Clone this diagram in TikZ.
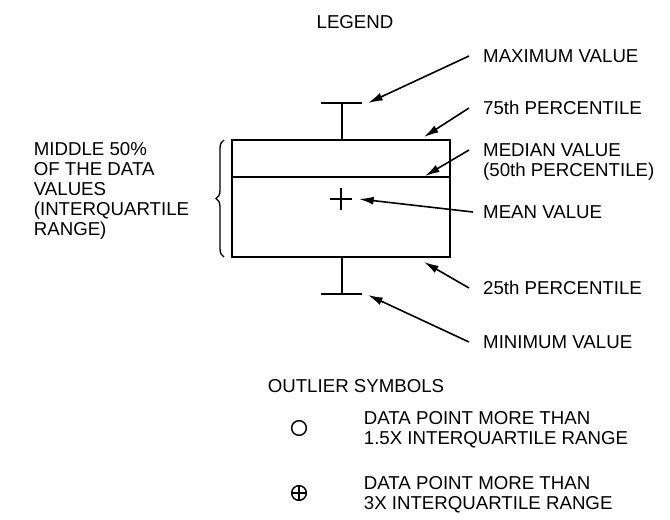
\documentclass[tikz,border=0pt]{standalone}
\usepackage{fontspec}
\setmainfont{Liberation Sans}
\usetikzlibrary{arrows.meta,decorations.pathreplacing}
\tikzset{
  lbl/.style={anchor=west,inner sep=0pt,inner xsep=10pt,align=left,font=\fontsize{14}{15}\selectfont},
  txt/.style={inner sep=0pt,align=left,font=\fontsize{14}{15}\selectfont},
  arr/.style={line width=1.2pt,-{Latex[length=11pt,width=6pt]}},
  outsym/.style={circle,draw,line width=1.1pt,minimum size=11pt,inner sep=0pt}
}
\begin{document}
\begin{tikzpicture}[x=0.75pt,y=-0.75pt,line width=1.3pt]
                \useasboundingbox (0,0) rectangle (670,519);
                \node[txt] (legend) at (355,22) {LEGEND};
                \draw (232,140) rectangle (450,257);
                \draw (232,177) -- (450,177);
                \draw (342,140) -- (342,103) (321,103) -- (362,103);
                \draw (342,257) -- (342,294) (321,294) -- (362,294);
                \draw (330,199) -- (352,199) (341,188) -- (341,210);
                \draw[line width=1pt,decorate,decoration={brace,amplitude=6pt}] (224,257) -- (224,140);
                \node[txt,anchor=west] (iqr) at (33,191) {MIDDLE 50\%\\OF THE DATA\\VALUES\\(INTERQUARTILE\\RANGE)};
                \coordinate (maxtip) at (368,103);
                \coordinate (q3tip) at (424,137);
                \coordinate (medtip) at (425,176);
                \coordinate (meantip) at (359,199);
                \coordinate (q1tip) at (424,262);
                \coordinate (mintip) at (368,295);
                \node[lbl] (maxlbl) at (469,56) {MAXIMUM VALUE};
                \node[lbl] (q3lbl) at (469,108) {75th PERCENTILE};
                \node[lbl] (medlbl) at (469,162) {MEDIAN VALUE\\(50th PERCENTILE)};
                \node[lbl] (meanlbl) at (469,212) {MEAN VALUE};
                \node[lbl] (q1lbl) at (469,288) {25th PERCENTILE};
                \node[lbl] (minlbl) at (469,342) {MINIMUM VALUE};
                \draw[arr] (maxlbl.west) -- (maxtip);
                \draw[arr] (q3lbl.west) -- (q3tip);
                \draw[arr] ([yshift=9pt]medlbl.west) -- (medtip);
                \draw[arr] ([xshift=3pt]meanlbl.west) -- (meantip);
                \draw[arr] (q1lbl.west) -- (q1tip);
                \draw[arr] (minlbl.west) -- (mintip);
                \node[txt] (outl) at (356,386) {OUTLIER SYMBOLS};
                \node[outsym] (sym1) at (299,428) {};
                \node[outsym] (sym2) at (299,493) {};
                \draw[line width=1.1pt] (sym2.north) -- (sym2.south) (sym2.west) -- (sym2.east);
                \node[txt,anchor=west] (far1) at (363,430) {DATA POINT MORE THAN\\1.5X INTERQUARTILE RANGE};
                \node[txt,anchor=west] (far2) at (363,495) {DATA POINT MORE THAN\\3X INTERQUARTILE RANGE};
            \end{tikzpicture}
\end{document}
